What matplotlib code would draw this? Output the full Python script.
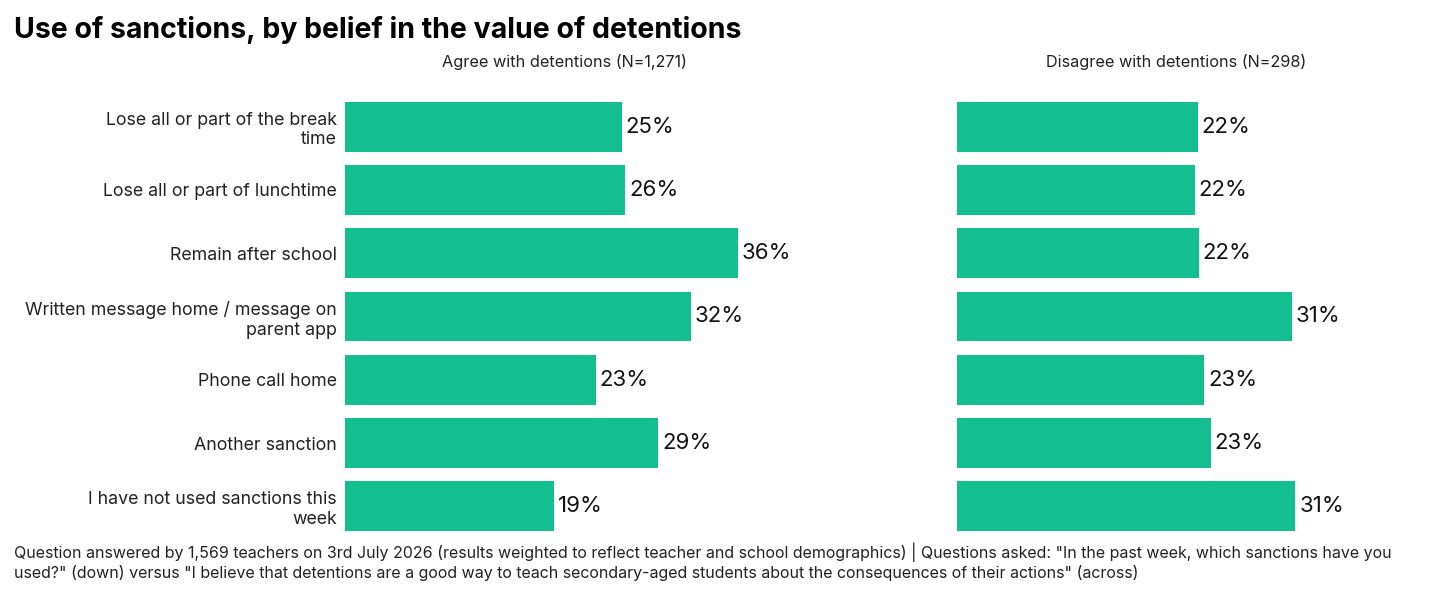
import matplotlib
matplotlib.use("Agg")
import matplotlib.pyplot as plt

categories = ["Lose all or part of the break\ntime", "Lose all or part of lunchtime", "Remain after school",
              "Written message home / message on\nparent app", "Phone call home", "Another sanction",
              "I have not used sanctions this\nweek"]
agree = [25.3, 25.6, 35.9, 31.6, 22.9, 28.6, 19.1]
disagree = [22.0, 21.7, 22.1, 30.6, 22.6, 23.2, 30.9]
agree_labels = ["25%", "26%", "36%", "32%", "23%", "29%", "19%"]
disagree_labels = ["22%", "22%", "22%", "31%", "23%", "23%", "31%"]
titles = ["Agree with detentions (N=1,271)", "Disagree with detentions (N=298)"]

plt.rcParams['font.family'] = ['Inter', 'DejaVu Sans']
color = "#13BF8F"
fig = plt.figure(figsize=(14.4, 6), dpi=100)
W, H = 1440, 600
axes = [fig.add_axes([345/W, 1-538/H, 438/W, 443/H]), fig.add_axes([957/W, 1-538/H, 438/W, 443/H])]
for i, (ax, vals, labs) in enumerate(zip(axes, [agree, disagree], [agree_labels, disagree_labels])):
    y = list(range(len(vals)))
    ax.barh(y, vals, height=0.79, color=color)
    ax.set_xlim(0, 40)
    ax.set_ylim(6.5, -0.5)
    for yy, v, l in zip(y, vals, labs):
        ax.text(v + 0.35, yy, l, va='center', ha='left', fontsize=16, color='#111')
    for s in ax.spines.values():
        s.set_visible(False)
    ax.set_xticks([])
    ax.set_yticks(y)
    if i == 0:
        ax.set_yticklabels(categories, fontsize=12.8, color='#222')
    else:
        ax.set_yticklabels([])
    ax.tick_params(axis='y', length=0, pad=6)
    ax.set_title(titles[i], fontsize=11.7, color='#222', pad=0, y=(1-62/H - (1-538/H))/(443/H), va='center')

fig.text(14/W, 1-30/H, "Use of sanctions, by belief in the value of detentions", fontsize=20.5, fontweight='bold', va='center', ha='left')
fig.text(14/W, 1-562/H, "Question answered by 1,569 teachers on 3rd July 2026 (results weighted to reflect teacher and school demographics) | Questions asked: \"In the past week, which sanctions have you\nused?\" (down) versus \"I believe that detentions are a good way to teach secondary-aged students about the consequences of their actions\" (across)",
         fontsize=11.5, va='center', ha='left', color='#222', linespacing=1.25)
fig.savefig("out.png", dpi=100)
